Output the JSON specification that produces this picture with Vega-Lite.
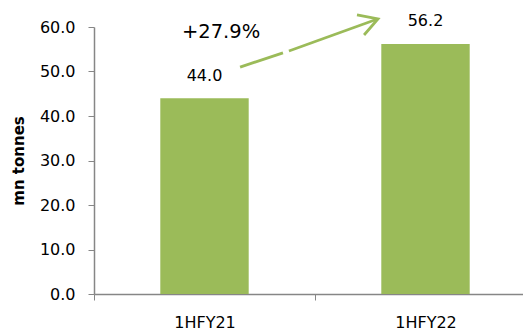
{
  "$schema": "https://vega.github.io/schema/vega-lite/v6.json",
  "width": 429,
  "height": 267,
  "autosize": "none",
  "padding": {"left": 94, "top": 27, "right": 0, "bottom": 35},
  "background": "white",
  "config": {
    "view": {"stroke": null},
    "font": "DejaVu Sans",
    "axis": {"grid": false, "domainColor": "#868686", "tickColor": "#868686", "labelColor": "#000000", "labelFont": "DejaVu Sans", "labelFontSize": 16, "titleFont": "DejaVu Sans"}
  },
  "datasets": {
    "bars": [
      {"period": "1HFY21", "value": 44.0, "label": "44.0"},
      {"period": "1HFY22", "value": 56.2, "label": "56.2"}
    ],
    "arrow": [
      {"seg": "a", "o": 1, "pos": 0.661, "value": 51.0},
      {"seg": "a", "o": 2, "pos": 0.855, "value": 54.2},
      {"seg": "b", "o": 1, "pos": 0.882, "value": 54.6},
      {"seg": "b", "o": 2, "pos": 1.283, "value": 61.8},
      {"seg": "h", "o": 1, "pos": 1.19, "value": 62.7},
      {"seg": "h", "o": 2, "pos": 1.285, "value": 61.8},
      {"seg": "h", "o": 3, "pos": 1.222, "value": 58.2}
    ],
    "note": [
      {"pos": 0.575, "value": 57.5, "text": "+27.9%"}
    ]
  },
  "layer": [
    {
      "data": {"name": "bars"},
      "mark": {"type": "bar", "color": "#9BBB59", "width": {"band": 0.4}},
      "encoding": {
        "x": {
          "field": "period", "type": "nominal", "sort": null,
          "scale": {"range": [0, 442], "paddingInner": 0, "paddingOuter": 0},
          "axis": {"title": null, "labelAngle": 0, "tickBand": "extent", "tickSize": 6, "labelPadding": 14, "domainWidth": 1.5}
        },
        "y": {
          "field": "value", "type": "quantitative", "title": "mn tonnes",
          "scale": {"domain": [0, 60], "nice": false},
          "axis": {"values": [0, 10, 20, 30, 40, 50, 60], "format": ".1f", "tickSize": 6, "labelPadding": 13, "domainWidth": 1.5,
            "titleFontSize": 15, "titleFontWeight": "bold", "titleColor": "#000000", "titleAngle": -90, "titleX": -76, "titleY": 133.5, "titleAlign": "center", "titleBaseline": "middle"}
        }
      }
    },
    {
      "data": {"name": "bars"},
      "mark": {"type": "text", "fontSize": 16, "color": "#000000", "baseline": "alphabetic", "dy": -17.5},
      "encoding": {
        "x": {"field": "period", "type": "nominal", "sort": null,
          "scale": {"range": [0, 442], "paddingInner": 0, "paddingOuter": 0}, "axis": null},
        "y": {"field": "value", "type": "quantitative", "title": "mn tonnes"},
        "text": {"field": "label"}
      }
    },
    {
      "data": {"name": "arrow"},
      "mark": {"type": "line", "color": "#9BBB59", "strokeWidth": 2.8, "clip": false, "strokeCap": "butt"},
      "encoding": {
        "x": {"field": "pos", "type": "quantitative", "scale": {"domain": [0, 2], "range": [0, 442], "nice": false, "zero": false}, "axis": null},
        "y": {"field": "value", "type": "quantitative", "title": "mn tonnes"},
        "detail": {"field": "seg"},
        "order": {"field": "o"}
      }
    },
    {
      "data": {"name": "note"},
      "mark": {"type": "text", "fontSize": 19.5, "color": "#000000", "baseline": "alphabetic"},
      "encoding": {
        "x": {"field": "pos", "type": "quantitative", "scale": {"domain": [0, 2], "range": [0, 442], "nice": false, "zero": false}, "axis": null},
        "y": {"field": "value", "type": "quantitative", "title": "mn tonnes"},
        "text": {"field": "text"}
      }
    }
  ],
  "resolve": {"scale": {"x": "independent"}}
}
